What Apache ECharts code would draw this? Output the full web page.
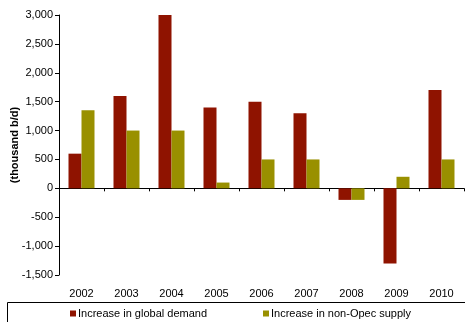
<!DOCTYPE html>
<html>
<head>
<meta charset="utf-8">
<script src="https://cdn.jsdelivr.net/npm/echarts@6/dist/echarts.min.js"></script>
<style>html,body{margin:0;padding:0;background:#fff;}#c{width:465px;height:322px;}</style>
</head>
<body>
<div id="c"></div>
<script>
const categories = ['2002','2003','2004','2005','2006','2007','2008','2009','2010'];
const globalDemand = [600, 1600, 3000, 1400, 1500, 1300, -200, -1300, 1700];
const nonOpecSupply = [1350, 1000, 1000, 100, 500, 500, -200, 200, 500];
const seriesNames = ['Increase in global demand', 'Increase in non-Opec supply'];
const yTitle = '(thousand b/d)';

const FONT = '"Liberation Sans", Arial, sans-serif';
const chart = echarts.init(document.getElementById('c'), null, {renderer: 'canvas'});
chart.setOption({
  animation: false,
  textStyle: {fontFamily: FONT},
  grid: {left: 59, right: 1, top: 15, bottom: 47, containLabel: false, outerBoundsMode: 'none'},
  legend: [
    {data: [seriesNames[0]], left: 70, top: 308, padding: 0, itemWidth: 6, itemHeight: 6, itemGap: 0,
     icon: 'rect', textStyle: {fontFamily: FONT, fontSize: 11, color: '#000', padding: [0,0,0,-3]}},
    {data: [seriesNames[1]], left: 263, top: 308, padding: 0, itemWidth: 6, itemHeight: 6, itemGap: 0,
     icon: 'rect', textStyle: {fontFamily: FONT, fontSize: 11, color: '#000', padding: [0,0,0,-3]}}
  ],
  graphic: [{
    type: 'rect', silent: true,
    shape: {x: 7.5, y: 302.5, width: 470, height: 40},
    style: {fill: 'none', stroke: '#000', lineWidth: 1}
  }],
  xAxis: [
    {type: 'category', data: categories,
     axisLine: {onZero: true, lineStyle: {color: '#000', width: 1}},
     axisTick: {show: true, length: 3, interval: 0, alignWithLabel: false, lineStyle: {color: '#000'}},
     axisLabel: {show: false}, splitLine: {show: false}},
    {type: 'category', data: categories, position: 'bottom',
     axisLine: {show: false, onZero: false}, axisTick: {show: false},
     axisLabel: {show: true, margin: 13, fontSize: 11, color: '#000', fontFamily: FONT, interval: 0},
     splitLine: {show: false}}
  ],
  yAxis: {
    type: 'value', min: -1500, max: 3000, interval: 500,
    name: yTitle, nameLocation: 'middle', nameRotate: 90, nameGap: 39, nameMoveOverlap: false,
    nameTextStyle: {fontFamily: FONT, fontSize: 11, fontWeight: 'bold', color: '#000'},
    axisLine: {show: true, lineStyle: {color: '#000', width: 1}},
    axisTick: {show: true, length: 4, lineStyle: {color: '#000'}},
    axisLabel: {fontSize: 11, color: '#000', fontFamily: FONT, margin: 6,
      formatter: v => v.toLocaleString('en-US')},
    splitLine: {show: false}
  },
  series: [
    {name: seriesNames[0], type: 'bar', data: globalDemand, xAxisIndex: 0,
     barWidth: 13, barGap: '0%', itemStyle: {color: '#8F1300'}},
    {name: seriesNames[1], type: 'bar', data: nonOpecSupply, xAxisIndex: 0,
     barWidth: 13, barGap: '0%', itemStyle: {color: '#999000'}}
  ]
});
</script>
</body>
</html>
